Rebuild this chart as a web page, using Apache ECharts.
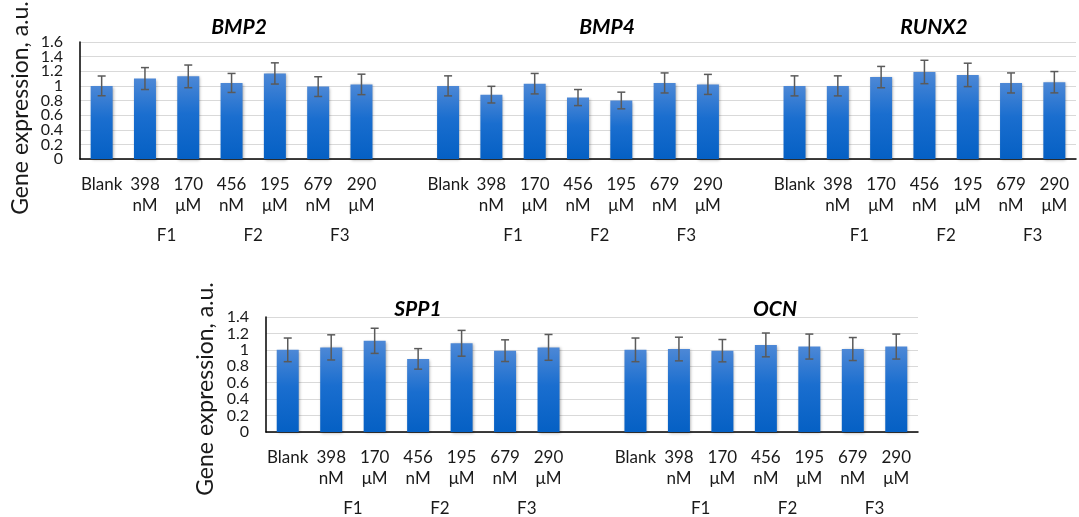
<!DOCTYPE html>
<html>
<head>
<meta charset="utf-8">
<title>Gene expression</title>
<script src="https://cdn.jsdelivr.net/npm/echarts@6/dist/echarts.min.js"></script>
<style>
  html, body { margin: 0; padding: 0; background: #fff; }
  #chart { width: 1079px; height: 517px; }
</style>
</head>
<body>
<div id="chart"></div>
<script>
// Treatment labels shared by every gene panel
const treatments = ['Blank', '398\nnM', '170\nμM', '456\nnM', '195\nμM', '679\nnM', '290\nμM'];
// Formulation labels, placed between the paired concentrations
const formulations = ['F1', 'F2', 'F3'];

// Top row genes
const topGenes = ['BMP2', 'BMP4', 'RUNX2'];
const bmp2 = [1.00, 1.10, 1.13, 1.04, 1.17, 0.99, 1.02];
const bmp2Err = [0.135, 0.15, 0.155, 0.13, 0.145, 0.135, 0.14];
const bmp4 = [1.00, 0.88, 1.03, 0.84, 0.80, 1.04, 1.02];
const bmp4Err = [0.137, 0.114, 0.14, 0.11, 0.114, 0.137, 0.137];
const runx2 = [1.00, 1.00, 1.12, 1.19, 1.15, 1.04, 1.05];
const runx2Err = [0.137, 0.137, 0.146, 0.16, 0.16, 0.137, 0.146];

// Bottom row genes
const bottomGenes = ['SPP1', 'OCN'];
const spp1 = [1.00, 1.03, 1.11, 0.89, 1.08, 0.99, 1.03];
const spp1Err = [0.144, 0.153, 0.153, 0.125, 0.157, 0.132, 0.157];
const ocn = [1.00, 1.01, 0.99, 1.06, 1.04, 1.01, 1.04];
const ocnErr = [0.144, 0.144, 0.136, 0.145, 0.152, 0.14, 0.152];

// Y axis ticks
const topYTicks = { min: 0, max: 1.6, interval: 0.2 };
const bottomYTicks = { min: 0, max: 1.4, interval: 0.2 };

const yName = 'Gene expression, a.u.';
const font = 'Lato, "Open Sans", sans-serif';
const textColor = '#1a1a1a';

// Join panels with one empty slot between them
function joinGroups(groups, fill) {
  const out = [];
  groups.forEach((g, i) => {
    if (i > 0) out.push(fill);
    g.forEach(v => out.push(v));
  });
  return out;
}

const topCats = joinGroups([treatments, treatments, treatments], '');
const topVals = joinGroups([bmp2, bmp4, runx2], '-');
const topErrs = joinGroups([bmp2Err, bmp4Err, runx2Err], null);
const botCats = joinGroups([treatments, treatments], '');
const botVals = joinGroups([spp1, ocn], '-');
const botErrs = joinGroups([spp1Err, ocnErr], null);

// Formulation label at category boundary k (boundaries 2,4,6 inside each 8-slot block)
const groupSpan = treatments.length + 1;
function formulationAt(k) {
  const r = k % groupSpan;
  if (r === 2) return formulations[0];
  if (r === 4) return formulations[1];
  if (r === 6) return formulations[2];
  return '';
}

const barGradient = new echarts.graphic.LinearGradient(0, 0, 0, 1, [
  { offset: 0, color: '#4d88d6' },
  { offset: 0.45, color: '#1a6ecf' },
  { offset: 1, color: '#0560c4' }
]);

function errorData(vals, errs) {
  const out = [];
  vals.forEach((v, i) => {
    if (v !== '-' && errs[i] != null) out.push([i, v - errs[i], v + errs[i]]);
  });
  return out;
}

function renderError(params, api) {
  const i = api.value(0);
  const lo = api.coord([i, api.value(1)]);
  const hi = api.coord([i, api.value(2)]);
  const half = 4;
  const style = { stroke: '#5a5a5a', lineWidth: 1.5 };
  return {
    type: 'group',
    children: [
      { type: 'line', shape: { x1: lo[0], y1: lo[1], x2: hi[0], y2: hi[1] }, style },
      { type: 'line', shape: { x1: hi[0] - half, y1: hi[1], x2: hi[0] + half, y2: hi[1] }, style },
      { type: 'line', shape: { x1: lo[0] - half, y1: lo[1], x2: lo[0] + half, y2: lo[1] }, style }
    ]
  };
}

function catAxis(gridIndex, cats) {
  return {
    type: 'category', gridIndex, data: cats,
    axisLine: { show: true, lineStyle: { color: '#000', width: 1.5 } },
    axisTick: { show: false },
    axisLabel: {
      interval: 0, margin: 15, color: textColor, hideOverlap: false,
      fontFamily: font, fontSize: 17, lineHeight: 21
    }
  };
}

function formulationAxis(gridIndex, n) {
  return {
    type: 'value', gridIndex, min: 0, max: n, interval: 1,
    position: 'bottom', offset: 68,
    axisLine: { show: false }, axisTick: { show: false }, splitLine: { show: false },
    axisLabel: {
      margin: 0, color: textColor, fontFamily: font, fontSize: 17, hideOverlap: false,
      showMinLabel: true, showMaxLabel: true,
      formatter: v => formulationAt(Math.round(v))
    }
  };
}

// Tick labels are spread over two stacked axes (even / odd steps) so that
// closely spaced labels are never dropped by the overlap check.
function tickText(v, ticks, wantEven) {
  const step = Math.round((v - ticks.min) / ticks.interval);
  if ((step % 2 === 0) !== wantEven) return '';
  return String(Math.round(v * 10) / 10);
}

function maxIsEven(ticks) {
  return Math.round((ticks.max - ticks.min) / ticks.interval) % 2 === 0;
}

function valAxis(gridIndex, ticks) {
  return {
    type: 'value', gridIndex, position: 'left',
    min: ticks.min, max: ticks.max, interval: ticks.interval,
    axisLine: { show: true, lineStyle: { color: '#000', width: 1.5 } },
    axisTick: { show: false },
    splitLine: { show: true, lineStyle: { color: '#d9d9d9', width: 1 } },
    axisLabel: {
      margin: 17, color: textColor, fontFamily: font, fontSize: 16,
      showMinLabel: true, showMaxLabel: maxIsEven(ticks),
      formatter: v => tickText(v, ticks, true)
    }
  };
}

function valAxisOdd(gridIndex, ticks) {
  return {
    type: 'value', gridIndex, position: 'left', offset: 0,
    min: ticks.min, max: ticks.max, interval: ticks.interval,
    axisLine: { show: false }, axisTick: { show: false }, splitLine: { show: false },
    axisLabel: {
      margin: 17, color: textColor, fontFamily: font, fontSize: 16,
      showMinLabel: false, showMaxLabel: !maxIsEven(ticks),
      formatter: v => tickText(v, ticks, false)
    }
  };
}

function barSeries(axisIndex, vals) {
  return {
    type: 'bar', xAxisIndex: axisIndex, yAxisIndex: axisIndex,
    data: vals, barWidth: 22,
    itemStyle: {
      color: barGradient,
      shadowBlur: 3, shadowColor: 'rgba(0,0,0,0.35)', shadowOffsetX: 1, shadowOffsetY: 1
    },
    z: 2
  };
}

function errSeries(axisIndex, vals, errs) {
  return {
    type: 'custom', xAxisIndex: axisIndex, yAxisIndex: axisIndex,
    data: errorData(vals, errs), renderItem: renderError, z: 3, silent: true
  };
}

const titleStyle = { fontFamily: font, fontSize: 21, fontWeight: 'bold', fontStyle: 'italic', color: '#000' };

const chart = echarts.init(document.getElementById('chart'), null, { renderer: 'canvas' });
chart.setOption({
  animation: false,
  backgroundColor: '#fff',
  title: [
    { text: topGenes[0], left: 234, top: 12, textAlign: 'center', textStyle: titleStyle },
    { text: topGenes[1], left: 602, top: 12, textAlign: 'center', textStyle: titleStyle },
    { text: topGenes[2], left: 929, top: 12, textAlign: 'center', textStyle: titleStyle },
    { text: bottomGenes[0], left: 413, top: 294, textAlign: 'center', textStyle: titleStyle },
    { text: bottomGenes[1], left: 770, top: 294, textAlign: 'center', textStyle: titleStyle }
  ],
  grid: [
    { left: 80, top: 42, width: 1003, height: 117 },
    { left: 266, top: 317, width: 652, height: 116 }
  ],
  xAxis: [
    catAxis(0, topCats),
    catAxis(1, botCats),
    formulationAxis(0, topCats.length),
    formulationAxis(1, botCats.length)
  ],
  yAxis: [
    valAxis(0, topYTicks),
    valAxis(1, bottomYTicks),
    valAxisOdd(0, topYTicks),
    valAxisOdd(1, bottomYTicks)
  ],
  graphic: [
    {
      type: 'text', x: 21, y: 108, rotation: Math.PI / 2,
      style: { text: yName, fontFamily: font, fontSize: 23, fill: textColor, align: 'center', verticalAlign: 'middle' }
    },
    {
      type: 'text', x: 206, y: 389, rotation: Math.PI / 2,
      style: { text: yName, fontFamily: font, fontSize: 23, fill: textColor, align: 'center', verticalAlign: 'middle' }
    }
  ],
  series: [
    barSeries(0, topVals),
    errSeries(0, topVals, topErrs),
    barSeries(1, botVals),
    errSeries(1, botVals, botErrs)
  ]
});
</script>
</body>
</html>
